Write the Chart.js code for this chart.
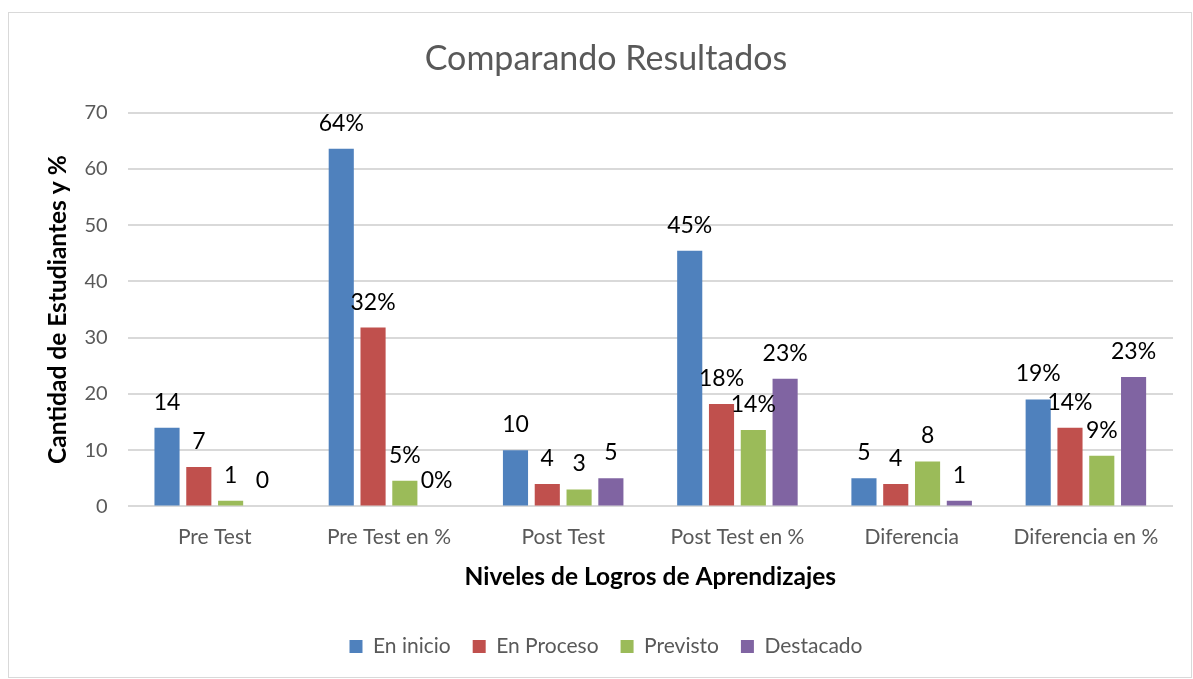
<!DOCTYPE html>
<html>
<head>
<meta charset="utf-8">
<script src="https://cdn.jsdelivr.net/npm/chart.js@4/dist/chart.umd.min.js"></script>
<style>
  body { margin: 0; background: #fff; }
  .marco {
    position: absolute; left: 8px; top: 12px;
    width: 1184px; height: 666px;
    border: 1px solid #d9d9d9; box-sizing: border-box;
  }
</style>
</head>
<body>
<div class="marco"><canvas id="resultadosChart"></canvas></div>
<script>
// Datos del gráfico
const categorias = ['Pre Test', 'Pre Test en %', 'Post Test', 'Post Test en %', 'Diferencia', 'Diferencia en %'];
const enInicio   = [14, 63.6, 10, 45.45, 5, 19];
const enProceso  = [7, 31.8, 4, 18.2, 4, 14];
const previsto   = [1, 4.55, 3, 13.6, 8, 9];
const destacado  = [0, 0, 5, 22.7, 1, 23];
const ticksY = [0, 10, 20, 30, 40, 50, 60, 70];

const gris = '#595959';
Chart.defaults.font.family = 'Lato, "Open Sans", sans-serif';

// Etiquetas encima de cada barra
const etiquetas = {
    id: 'etiquetas',
    afterDatasetsDraw(chart) {
        const ctx = chart.ctx;
        ctx.save();
        ctx.font = '23px Lato, "Open Sans", sans-serif';
        ctx.fillStyle = '#000';
        ctx.textAlign = 'center';
        ctx.textBaseline = 'bottom';
        chart.data.datasets.forEach((ds, i) => {
            chart.getDatasetMeta(i).data.forEach((bar, j) => {
                const v = ds.data[j];
                const txt = categorias[j].includes('%') ? Math.round(v) + '%' : String(v);
                ctx.fillText(txt, bar.x, bar.y - 14);
            });
        });
        ctx.restore();
    }
};

new Chart(document.getElementById('resultadosChart'), {
    type: 'bar',
    data: {
        labels: categorias,
        datasets: [
            { label: 'En inicio', data: enInicio, backgroundColor: '#4f81bd' },
            { label: 'En Proceso', data: enProceso, backgroundColor: '#c0504d' },
            { label: 'Previsto', data: previsto, backgroundColor: '#9bbb59' },
            { label: 'Destacado', data: destacado, backgroundColor: '#8064a2' }
        ]
    },
    options: {
        responsive: true,
        maintainAspectRatio: false,
        animation: false,
        datasets: { bar: { categoryPercentage: 0.73, barPercentage: 0.79 } },
        layout: { padding: { left: 30, right: 18, top: 6, bottom: 10 } },
        plugins: {
            title: {
                display: true,
                text: 'Comparando Resultados',
                color: gris,
                font: { size: 34, weight: 'normal' },
                padding: { top: 20, bottom: 33 }
            },
            legend: {
                position: 'bottom',
                labels: { color: gris, font: { size: 21 }, boxWidth: 13, boxHeight: 13, padding: 22 }
            },
            tooltip: { enabled: false }
        },
        scales: {
            x: {
                grid: { display: false },
                border: { display: false },
                ticks: { color: gris, font: { size: 21 }, padding: 10 },
                title: {
                    display: true,
                    text: 'Niveles de Logros de Aprendizajes',
                    color: '#000',
                    font: { size: 24.5, weight: 'bold' },
                    padding: { top: 3, bottom: 22 }
                }
            },
            y: {
                min: 0,
                max: 70,
                afterBuildTicks: axis => { axis.ticks = ticksY.map(v => ({ value: v })); },
                afterFit: axis => { axis.width -= 10; },
                grid: { color: '#d9d9d9', lineWidth: 2, drawTicks: false },
                border: { display: false },
                ticks: { color: gris, font: { size: 20 }, padding: 20 },
                title: {
                    display: true,
                    text: 'Cantidad de Estudiantes y %',
                    color: '#000',
                    font: { size: 24.5, weight: 'bold' },
                    padding: { bottom: 2 }
                }
            }
        }
    },
    plugins: [etiquetas]
});
</script>
</body>
</html>
